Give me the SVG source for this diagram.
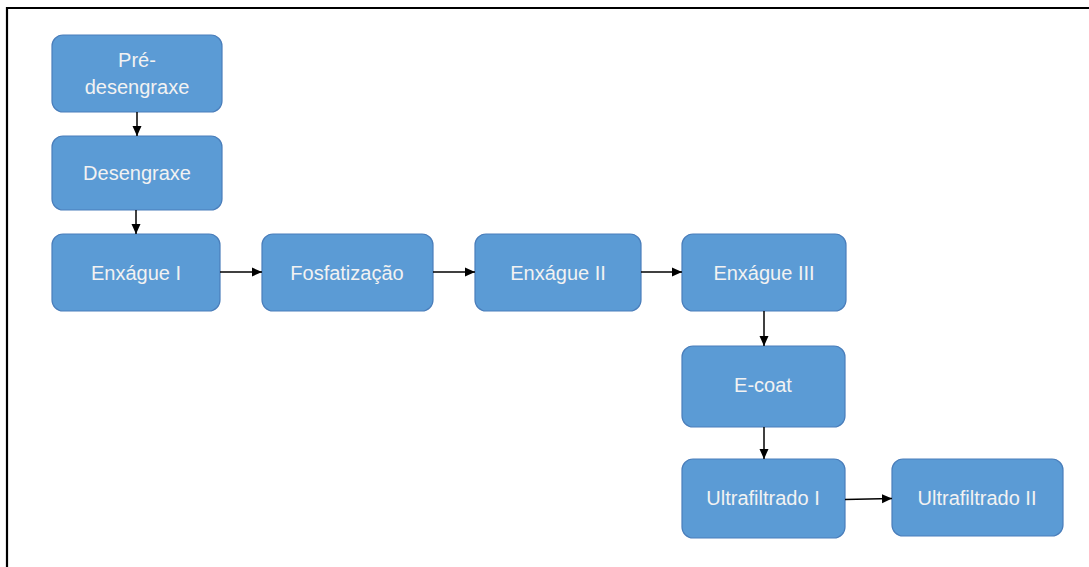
<svg xmlns="http://www.w3.org/2000/svg" width="1089" height="567" viewBox="0 0 1089 567">
<style>
.node rect{fill:#5b9bd5;stroke:#4a7ebb;stroke-width:1.2}
.node text{fill:#f2f2f2;font-family:"Liberation Sans",Arial,sans-serif;font-size:20px;text-anchor:middle;dominant-baseline:central}
.edge{stroke:#000;stroke-width:1.5;fill:none;marker-end:url(#ah)}
</style>
<defs>
<marker id="ah" markerWidth="11" markerHeight="11" refX="10" refY="5.5" orient="auto" markerUnits="userSpaceOnUse">
<path d="M0,1 L10,5.5 L0,10 Z" fill="#000"/>
</marker>
</defs>
<rect width="1089" height="567" fill="#fff"/>
<path d="M7,567 V8 H1089" fill="none" stroke="#000" stroke-width="2.2"/>
<g id="n1" class="node"><rect x="52" y="35" width="170" height="77" rx="11"/><text x="137" y="60">Pré-</text><text x="137" y="87">desengraxe</text></g>
<g id="n2" class="node"><rect x="52" y="136" width="170" height="74" rx="11"/><text x="137" y="173">Desengraxe</text></g>
<g id="n3" class="node"><rect x="52" y="234" width="168" height="77" rx="11"/><text x="136" y="273">Enxágue I</text></g>
<g id="n4" class="node"><rect x="262" y="234" width="171" height="77" rx="11"/><text x="347" y="273">Fosfatização</text></g>
<g id="n5" class="node"><rect x="475" y="234" width="166" height="77" rx="11"/><text x="558" y="273">Enxágue II</text></g>
<g id="n6" class="node"><rect x="682" y="234" width="164" height="77" rx="11"/><text x="764" y="273">Enxágue III</text></g>
<g id="n7" class="node"><rect x="682" y="346" width="163" height="81" rx="11"/><text x="763" y="385">E-coat</text></g>
<g id="n8" class="node"><rect x="682" y="459" width="163" height="79" rx="11"/><text x="763" y="498">Ultrafiltrado I</text></g>
<g id="n9" class="node"><rect x="892" y="459" width="171" height="77" rx="11"/><text x="977" y="498">Ultrafiltrado II</text></g>
<g id="edges">
<path class="edge" d="M137,112 V136"/>
<path class="edge" d="M136,210 V234"/>
<path class="edge" d="M220,272 H262"/>
<path class="edge" d="M433,272 H475"/>
<path class="edge" d="M641,272 H682"/>
<path class="edge" d="M764,311 V346"/>
<path class="edge" d="M764,427 V459"/>
<path class="edge" d="M845,499.5 L892,498.5"/>
</g>
</svg>
